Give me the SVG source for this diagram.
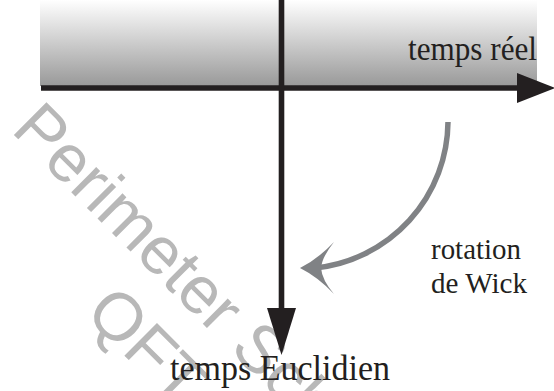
<svg xmlns="http://www.w3.org/2000/svg" width="554" height="391" viewBox="0 0 554 391">
<style>
.lbl{font-family:"Liberation Serif","Times New Roman",serif;fill:#231f20}
.wm{font-family:"Liberation Sans",Arial,sans-serif;fill:#b8b8b8;font-size:67px}
.axis{stroke:#231f20;stroke-width:5.6;fill:none}
</style>
<defs>
<linearGradient id="g" x1="0" y1="0" x2="0" y2="1">
<stop offset="0" stop-color="#ffffff"/>
<stop offset="1" stop-color="#999999"/>
</linearGradient>
</defs>
<rect x="40" y="0" width="497" height="86" fill="url(#g)"/>
<g id="watermark">
<g transform="translate(10,131) rotate(45)">
<text class="wm" x="0" y="0">Perimeter Scholars</text>
<text class="wm" x="182" y="78">QFT</text>
</g>
</g>
<g id="connectors">
<line class="axis" x1="41" y1="88" x2="520" y2="88"/>
<path d="M517,73 L555,88 L517,103 Z" fill="#231f20"/>
<line class="axis" x1="281.5" y1="0" x2="281.5" y2="310"/>
<path d="M267,308 L296,308 L281.5,355 Z" fill="#231f20"/>
<path d="M448,122 A148,148 0 0 1 315,268" fill="none" stroke="#808285" stroke-width="5.5"/>
<path d="M300,268 Q318,259 334,242 Q322,257 321,268 Q322,280 334,294 Q318,277 300,268 Z" fill="#808285"/>
</g>
<g id="real">
<text class="lbl" x="537" y="60" font-size="34" text-anchor="end" textLength="129" lengthAdjust="spacingAndGlyphs">temps réel</text>
</g>
<g id="euclid">
<text class="lbl" x="170" y="380" font-size="35" textLength="220" lengthAdjust="spacingAndGlyphs">temps Euclidien</text>
</g>
<g id="wick">
<text class="lbl" x="431" y="259" font-size="29" textLength="90" lengthAdjust="spacingAndGlyphs">rotation</text>
<text class="lbl" x="431" y="293" font-size="29" textLength="96" lengthAdjust="spacingAndGlyphs">de Wick</text>
</g>
</svg>
